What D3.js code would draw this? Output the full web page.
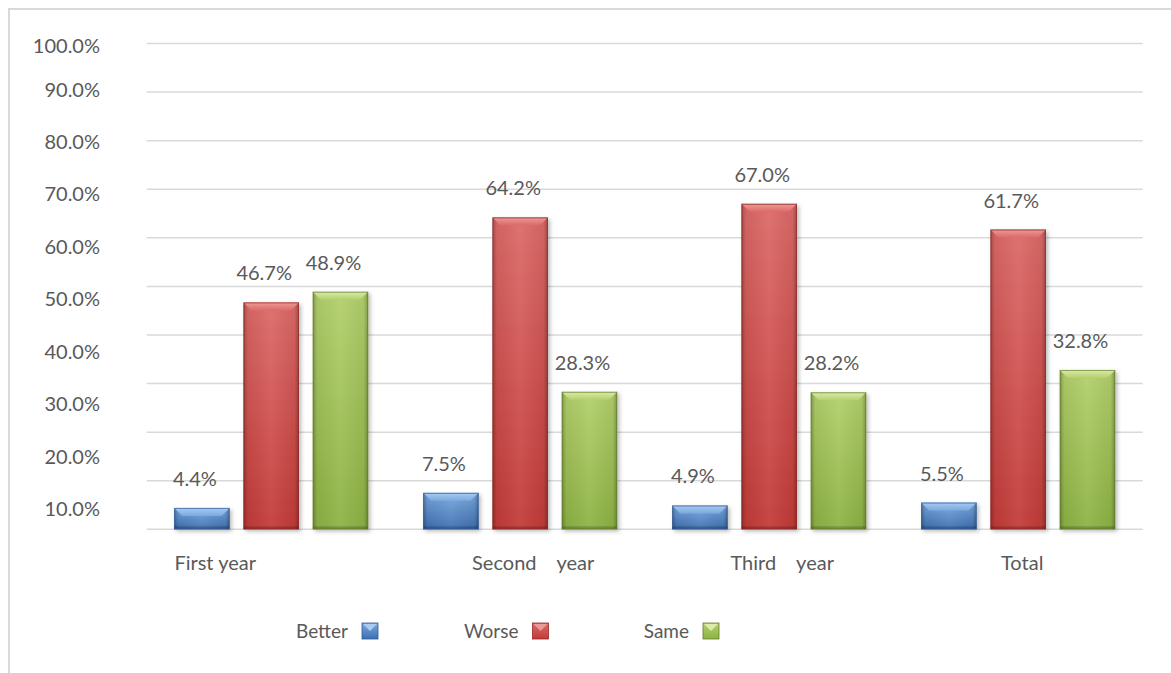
<!DOCTYPE html>
<html>
<head>
<meta charset="utf-8">
<script src="https://cdn.jsdelivr.net/npm/d3@7"></script>
<style>
  html, body { margin: 0; padding: 0; background: #ffffff; }
  svg { display: block; }
  text { font-family: Lato, "Open Sans", sans-serif; fill: #595959; }
</style>
</head>
<body>
<svg id="chart" width="1171" height="673"></svg>
<script>
// Survey results by year
const categories = ["First year", "Second    year", "Third    year", "Total"];
const series = ["Better", "Worse", "Same"];
const better = [4.4, 7.5, 4.9, 5.5];
const worse = [46.7, 64.2, 67.0, 61.7];
const same = [48.9, 28.3, 28.2, 32.8];
const tickValues = [10, 20, 30, 40, 50, 60, 70, 80, 90, 100];
const gridValues = [0, 10, 20, 30, 40, 50, 60, 70, 80, 90, 100];

const values = { Better: better, Worse: worse, Same: same };
const palette = {
  Better: { top: "#7aa9e0", bottom: "#3d6fb0", bevel: "#a9cbf2", edge: "#2f5a94" },
  Worse:  { top: "#dc6a68", bottom: "#c23b38", bevel: "#ec9a98", edge: "#8f2a28" },
  Same:   { top: "#b3d06c", bottom: "#8db244", bevel: "#dcebaa", edge: "#627d2c" }
};

const svg = d3.select("#chart");
const defs = svg.append("defs");

// soft shadow under the bars
const shadow = defs.append("filter").attr("id", "shadow")
  .attr("x", "-20%").attr("y", "-20%").attr("width", "150%").attr("height", "150%");
shadow.append("feDropShadow").attr("dx", 2).attr("dy", 2)
  .attr("stdDeviation", 2).attr("flood-color", "#000").attr("flood-opacity", 0.28);

series.forEach(s => {
  const c = palette[s];
  const v = defs.append("linearGradient").attr("id", "body-" + s)
    .attr("x1", 0).attr("y1", 0).attr("x2", 0).attr("y2", 1);
  v.append("stop").attr("offset", "0%").attr("stop-color", c.top);
  v.append("stop").attr("offset", "100%").attr("stop-color", c.bottom);
  const b = defs.append("linearGradient").attr("id", "bevel-" + s)
    .attr("x1", 0).attr("y1", 0).attr("x2", 0).attr("y2", 1);
  b.append("stop").attr("offset", "0%").attr("stop-color", c.bevel);
  b.append("stop").attr("offset", "100%").attr("stop-color", c.top);
});
const side = defs.append("linearGradient").attr("id", "sides")
  .attr("x1", 0).attr("y1", 0).attr("x2", 1).attr("y2", 0);
side.append("stop").attr("offset", "0%").attr("stop-color", "#000").attr("stop-opacity", 0.28);
side.append("stop").attr("offset", "8%").attr("stop-color", "#000").attr("stop-opacity", 0.05);
side.append("stop").attr("offset", "50%").attr("stop-color", "#fff").attr("stop-opacity", 0.06);
side.append("stop").attr("offset", "92%").attr("stop-color", "#000").attr("stop-opacity", 0.05);
side.append("stop").attr("offset", "100%").attr("stop-color", "#000").attr("stop-opacity", 0.28);

// frame (top and left edges visible)
svg.append("path")
  .attr("d", "M9,673 L9,9 L1171,9")
  .attr("fill", "none").attr("stroke", "#d9d9d9").attr("stroke-width", 2);

const x0 = d3.scaleBand().domain(categories).range([146.7, 1142.7]).padding(0);
const x1 = d3.scaleBand().domain(series)
  .range([27.5, x0.bandwidth() - 27.5]).paddingInner(0.2).paddingOuter(0);
const y = d3.scaleLinear().domain([0, 100]).range([529.3, 43.5]);
// tick labels sit on their own spacing down the left side
const yLabel = d3.scaleLinear().domain([10, 90, 100]).range([509, 89.5, 45.8]);

// gridlines
svg.append("g").selectAll("line").data(gridValues).join("line")
  .attr("x1", 146.7).attr("x2", 1142.7)
  .attr("y1", d => y(d)).attr("y2", d => y(d))
  .attr("stroke", "#d9d9d9").attr("stroke-width", 1.5);

// y tick labels
svg.append("g").selectAll("text").data(tickValues).join("text")
  .attr("x", 100).attr("y", d => yLabel(d)).attr("dy", "0.35em")
  .attr("text-anchor", "end").attr("font-size", 20)
  .text(d => d.toFixed(1) + "%");

// bars
const bars = [];
categories.forEach((cat, i) => {
  series.forEach(s => bars.push({ cat, s, v: values[s][i] }));
});

const g = svg.append("g");
const bar = g.selectAll("g.bar").data(bars).join("g").attr("class", "bar");
bar.each(function (d) {
  const sel = d3.select(this);
  const bx = x0(d.cat) + x1(d.s);
  const bw = x1.bandwidth();
  const top = y(d.v);
  const bottom = y(0);
  const h = bottom - top;
  const bev = Math.min(8, h / 2);
  const c = palette[d.s];
  sel.append("rect")
    .attr("x", bx).attr("y", top).attr("width", bw).attr("height", h)
    .attr("fill", `url(#body-${d.s})`).attr("filter", "url(#shadow)");
  sel.append("rect")
    .attr("x", bx).attr("y", top).attr("width", bw).attr("height", h)
    .attr("fill", "url(#sides)");
  // top bevel
  sel.append("polygon")
    .attr("points", [[bx, top], [bx + bw, top], [bx + bw - bev, top + bev], [bx + bev, top + bev]].map(p => p.join(",")).join(" "))
    .attr("fill", `url(#bevel-${d.s})`);
  // bottom edge darkening
  sel.append("rect")
    .attr("x", bx).attr("y", bottom - 3).attr("width", bw).attr("height", 3)
    .attr("fill", "#000").attr("opacity", 0.18);
  sel.append("rect")
    .attr("x", bx + 0.5).attr("y", top + 0.5).attr("width", bw - 1).attr("height", h - 1)
    .attr("fill", "none").attr("stroke", c.edge).attr("stroke-width", 1).attr("stroke-opacity", 0.7);
});

// value labels
g.selectAll("text.val").data(bars).join("text").attr("class", "val")
  .attr("x", d => x0(d.cat) + x1(d.s) + x1.bandwidth() / 2 - 7)
  .attr("y", d => y(d.v) - 29).attr("dy", "0.35em")
  .attr("text-anchor", "middle").attr("font-size", 20)
  .text(d => d.v.toFixed(1) + "%");

// category labels
const labelShift = [-56, 13, 13, 4];
svg.append("g").selectAll("text").data(categories).join("text")
  .attr("x", (d, i) => x0(d) + x0.bandwidth() / 2 + labelShift[i])
  .attr("y", 563).attr("dy", "0.35em")
  .attr("text-anchor", "middle").attr("font-size", 20)
  .style("white-space", "pre")
  .text(d => d);

// legend
const lx = d3.scalePoint().domain(series).range([362, 703]);
const leg = svg.append("g").selectAll("g").data(series).join("g");
leg.append("text")
  .attr("x", d => lx(d) - 14).attr("y", 631).attr("dy", "0.35em")
  .attr("text-anchor", "end").attr("font-size", 19)
  .text(d => d);
leg.append("rect")
  .attr("x", d => lx(d)).attr("y", 623).attr("width", 16).attr("height", 16)
  .attr("fill", d => `url(#body-${d})`)
  .attr("stroke", d => palette[d].edge).attr("stroke-width", 0.8);
leg.append("polygon")
  .attr("points", d => {
    const x = lx(d);
    return [[x + 1, 624], [x + 15, 624], [x + 8, 631]].map(p => p.join(",")).join(" ");
  })
  .attr("fill", d => palette[d].bevel);
</script>
</body>
</html>
